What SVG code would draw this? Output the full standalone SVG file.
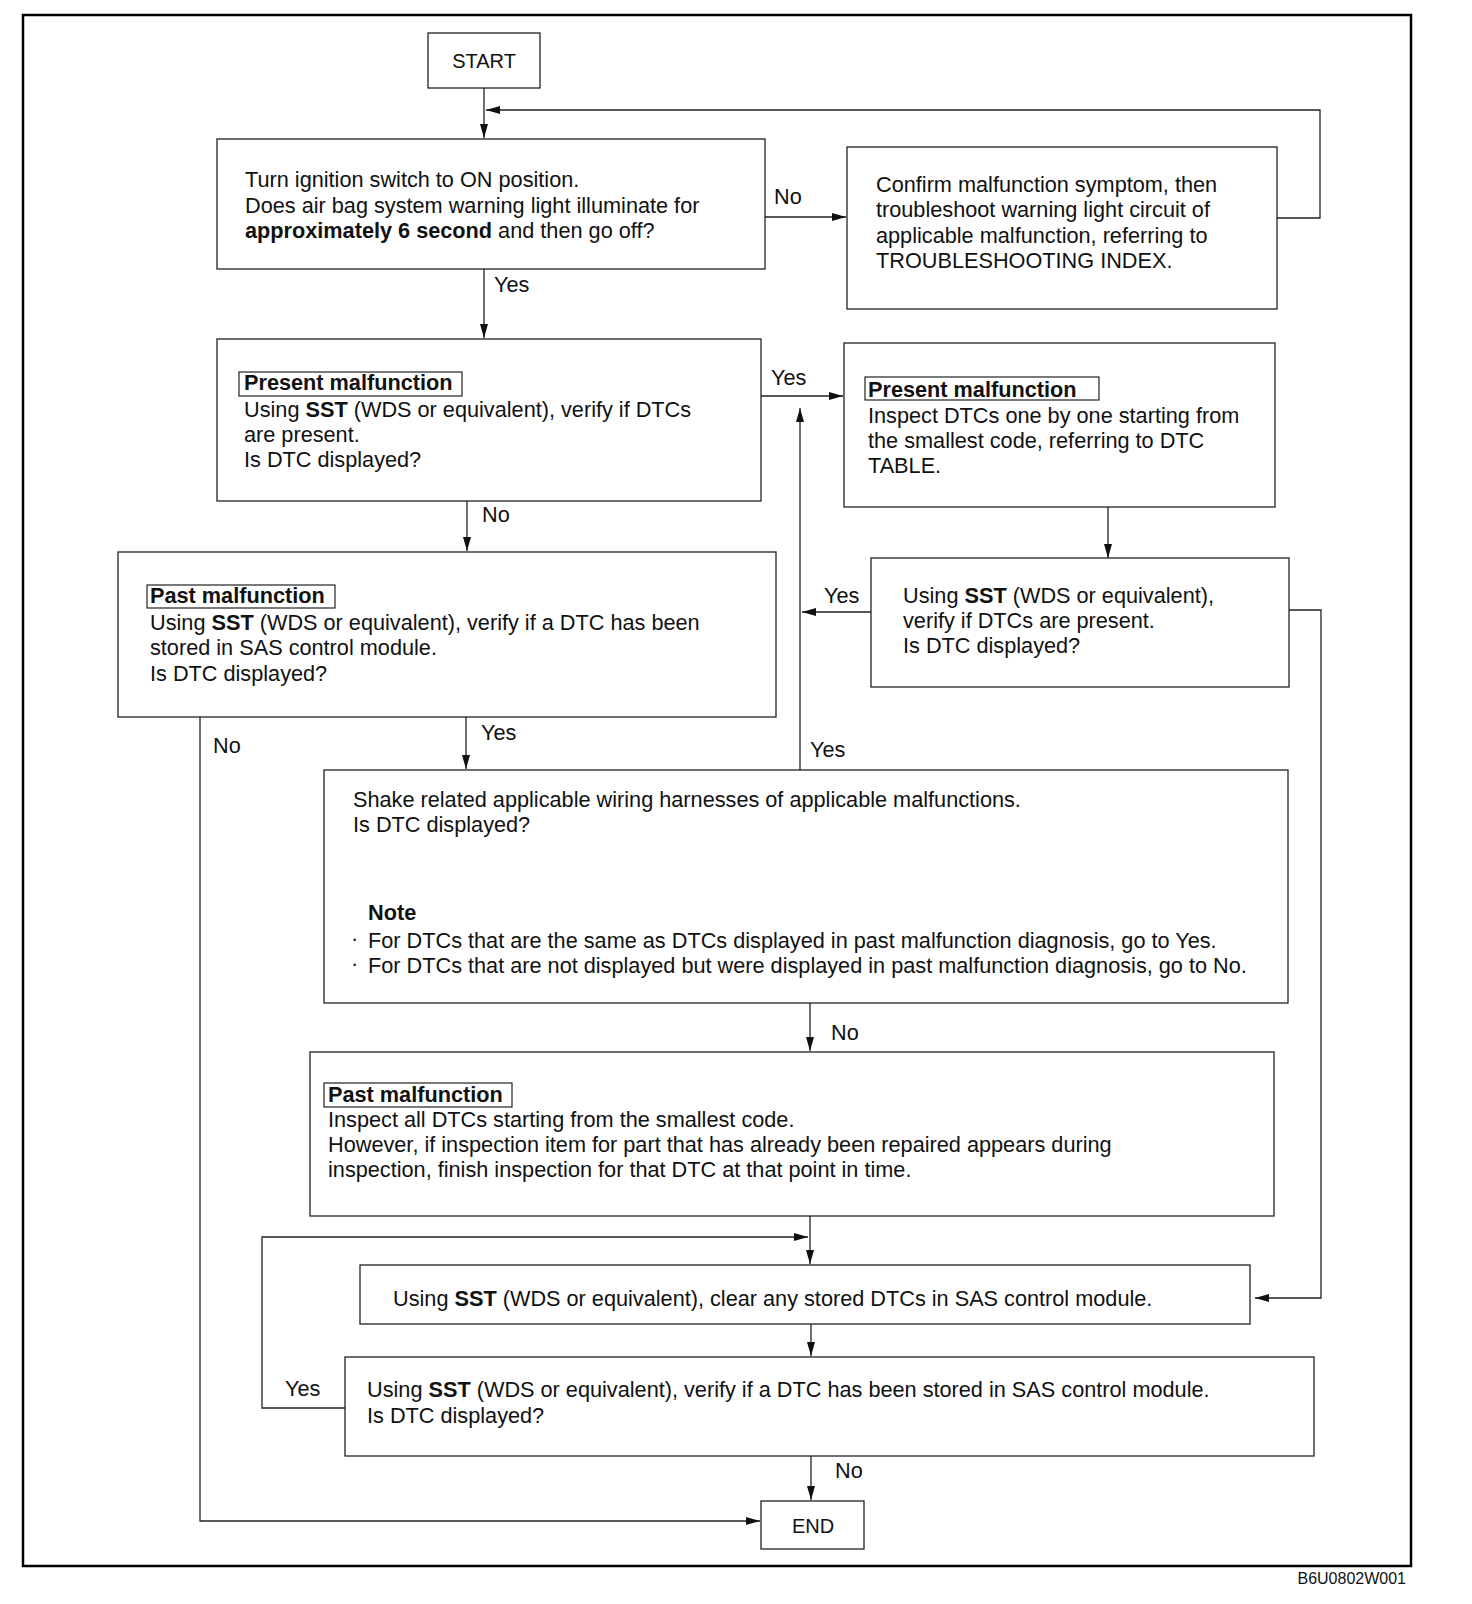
<svg xmlns="http://www.w3.org/2000/svg" width="1472" height="1604" viewBox="0 0 1472 1604">
<defs>
<marker id="ah" viewBox="0 0 14 8" refX="14" refY="4" markerWidth="14" markerHeight="8" markerUnits="userSpaceOnUse" orient="auto">
<path d="M0,0 L14,4 L0,8 z" fill="#111"/>
</marker>
<style>
.box{fill:none;stroke:#222;stroke-width:1.3}
.hdr{fill:none;stroke:#222;stroke-width:1.2}
.ln{fill:none;stroke:#222;stroke-width:1.3}
.ar{fill:none;stroke:#222;stroke-width:1.3;marker-end:url(#ah)}
text{font-family:"Liberation Sans",Arial,Helvetica,sans-serif;font-size:21.7px;fill:#111}
.b{font-weight:bold}
.c{text-anchor:middle}
</style>
</defs>
<rect width="1472" height="1604" fill="#fff"/>
<rect x="23" y="15" width="1388" height="1551" fill="none" stroke="#000" stroke-width="2.5"/>

<g id="connectors">
<path class="ar" d="M484,88 V138"/>
<path class="ar" d="M1277,218 H1320 V110 H486"/>
<path class="ar" d="M765,217 H846"/>
<path class="ar" d="M484,269 V338"/>
<path class="ar" d="M761,396 H843"/>
<path class="ar" d="M467,501 V551"/>
<path class="ar" d="M1108,507 V558"/>
<path class="ar" d="M871,612 H802"/>
<path class="ar" d="M466,717 V769"/>
<path class="ar" d="M800,770 V408"/>
<path class="ar" d="M1289,610 H1321 V1298 H1255"/>
<path class="ar" d="M200,717 V1521 H760"/>
<path class="ar" d="M810,1003 V1051"/>
<path class="ar" d="M810,1216 V1264"/>
<path class="ar" d="M345,1408 H262 V1237 H808"/>
<path class="ar" d="M811,1324 V1356"/>
<path class="ar" d="M811,1456 V1500"/>
<text x="774" y="204">No</text>
<text x="494" y="292">Yes</text>
<text x="771" y="385">Yes</text>
<text x="482" y="522">No</text>
<text x="824" y="603">Yes</text>
<text x="481" y="740">Yes</text>
<text x="213" y="753">No</text>
<text x="810" y="757">Yes</text>
<text x="831" y="1040">No</text>
<text x="285" y="1396">Yes</text>
<text x="835" y="1478">No</text>
</g>

<g id="start">
<rect class="box" x="428" y="33" width="112" height="55"/>
<text class="c" x="484" y="68" style="font-size:20px">START</text>
</g>

<g id="n1">
<rect class="box" x="217" y="139" width="548" height="130"/>
<text x="245" y="187">Turn ignition switch to ON position.</text>
<text x="245" y="213">Does air bag system warning light illuminate for</text>
<text x="245" y="238"><tspan class="b">approximately 6 second</tspan> and then go off?</text>
</g>

<g id="n2">
<rect class="box" x="847" y="147" width="430" height="162"/>
<text x="876" y="192">Confirm malfunction symptom, then</text>
<text x="876" y="217">troubleshoot warning light circuit of</text>
<text x="876" y="243">applicable malfunction, referring to</text>
<text x="876" y="268">TROUBLESHOOTING INDEX.</text>
</g>

<g id="n3">
<rect class="box" x="217" y="339" width="544" height="162"/>
<rect class="hdr" x="239" y="372" width="223" height="24"/>
<text class="b" x="244" y="390">Present malfunction</text>
<text x="244" y="417">Using <tspan class="b">SST</tspan> (WDS or equivalent), verify if DTCs</text>
<text x="244" y="442">are present.</text>
<text x="244" y="467">Is DTC displayed?</text>
</g>

<g id="n4">
<rect class="box" x="844" y="343" width="431" height="164"/>
<rect class="hdr" x="865" y="377" width="234" height="23"/>
<text class="b" x="868" y="397">Present malfunction</text>
<text x="868" y="423">Inspect DTCs one by one starting from</text>
<text x="868" y="448">the smallest code, referring to DTC</text>
<text x="868" y="473">TABLE.</text>
</g>

<g id="n5">
<rect class="box" x="871" y="558" width="418" height="129"/>
<text x="903" y="603">Using <tspan class="b">SST</tspan> (WDS or equivalent),</text>
<text x="903" y="628">verify if DTCs are present.</text>
<text x="903" y="653">Is DTC displayed?</text>
</g>

<g id="n6">
<rect class="box" x="118" y="552" width="658" height="165"/>
<rect class="hdr" x="147" y="585" width="188" height="23"/>
<text class="b" x="150" y="603">Past malfunction</text>
<text x="150" y="630">Using <tspan class="b">SST</tspan> (WDS or equivalent), verify if a DTC has been</text>
<text x="150" y="655">stored in SAS control module.</text>
<text x="150" y="681">Is DTC displayed?</text>
</g>

<g id="n7">
<rect class="box" x="324" y="770" width="964" height="233"/>
<text x="353" y="807">Shake related applicable wiring harnesses of applicable malfunctions.</text>
<text x="353" y="832">Is DTC displayed?</text>
<text class="b" x="368" y="920">Note</text>
<text x="351" y="946">·</text>
<text x="368" y="948">For DTCs that are the same as DTCs displayed in past malfunction diagnosis, go to Yes.</text>
<text x="351" y="971">·</text>
<text x="368" y="973">For DTCs that are not displayed but were displayed in past malfunction diagnosis, go to No.</text>
</g>

<g id="n8">
<rect class="box" x="310" y="1052" width="964" height="164"/>
<rect class="hdr" x="324" y="1083" width="188" height="24"/>
<text class="b" x="328" y="1102">Past malfunction</text>
<text x="328" y="1127">Inspect all DTCs starting from the smallest code.</text>
<text x="328" y="1152">However, if inspection item for part that has already been repaired appears during</text>
<text x="328" y="1177">inspection, finish inspection for that DTC at that point in time.</text>
</g>

<g id="n9">
<rect class="box" x="360" y="1265" width="890" height="59"/>
<text x="393" y="1306">Using <tspan class="b">SST</tspan> (WDS or equivalent), clear any stored DTCs in SAS control module.</text>
</g>

<g id="n10">
<rect class="box" x="345" y="1357" width="969" height="99"/>
<text x="367" y="1397">Using <tspan class="b">SST</tspan> (WDS or equivalent), verify if a DTC has been stored in SAS control module.</text>
<text x="367" y="1423">Is DTC displayed?</text>
</g>

<g id="end">
<rect class="box" x="761" y="1501" width="103" height="48"/>
<text class="c" x="813" y="1533" style="font-size:20px">END</text>
</g>

<text x="1406" y="1584" style="font-size:16px;text-anchor:end">B6U0802W001</text>
</svg>
